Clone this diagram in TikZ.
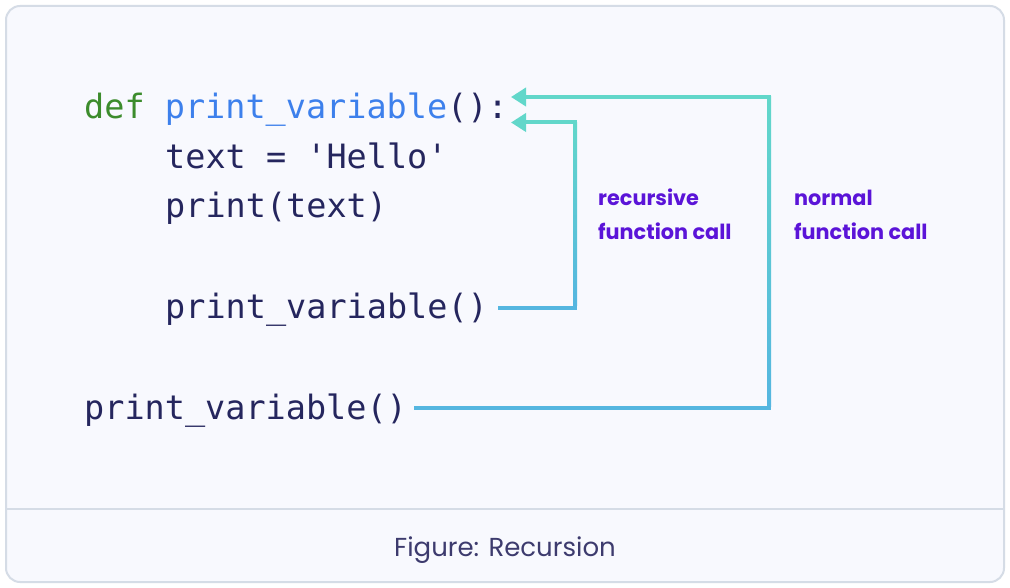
\documentclass[tikz,border=0pt]{standalone}
\usepackage{fontspec}
\setmonofont{DejaVu Sans Mono}
\newfontfamily\popfont{Poppins}
\usetikzlibrary{arrows.meta}
\definecolor{bgcol}{HTML}{F8F9FE}
\definecolor{bordercol}{HTML}{D5DCE6}
\definecolor{defgreen}{HTML}{3C8C2C}
\definecolor{fnblue}{HTML}{3D80EC}
\definecolor{codedark}{HTML}{25265E}
\definecolor{labpurple}{HTML}{5B14D8}
\definecolor{capcol}{HTML}{3D3B6E}
\definecolor{tealc}{HTML}{62D7CA}
\definecolor{bluec}{HTML}{55B6E0}
\tikzset{
  codeline/.style={anchor=base west, inner sep=0pt, text=codedark,
    font=\ttfamily\fontsize{33.5}{40}\selectfont},
  lab/.style={anchor=base west, inner sep=0pt, text=labpurple,
    font=\popfont\bfseries\fontsize{20.8}{24}\selectfont},
  conn/.style={line width=4pt, draw=tealc, -{Triangle[length=15pt,width=18pt]}},
}
\begin{document}
\begin{tikzpicture}[x=1pt,y=-1pt]
\useasboundingbox (0,0) rectangle (1010,588);
\fill[white] (0,0) rectangle (1010,588);
\draw[bordercol, line width=2pt, fill=bgcol, rounded corners=14pt] (6,6) rectangle (1004,582);
\draw[bordercol, line width=2pt] (6,509) -- (1004,509);

\node[codeline] (def) at (84,119) {{\color{defgreen}def} {\color{fnblue}print\_variable}():};
\node[codeline] (l2) at (165,169) {text = 'Hello'};
\node[codeline] (l3) at (165,218) {print(text)};
\node[codeline] (rcall) at (165,319) {print\_variable()};
\node[codeline] (ncall) at (84,419.5) {print\_variable()};

\coordinate (tN) at (511,97);
\coordinate (tR) at (511,122.5);
\coordinate (cN) at (769,408);
\coordinate (cR) at (575,307.7);

% normal call
\draw[conn] (ncall.east |- cN) ++(7,0) coordinate (sN) -- (cN) -- (cN |- tN) -- (tN);
\draw[line width=4pt, bluec] (sN) -- ([xshift=2pt]cN);
\shade[top color=tealc, bottom color=bluec] ([xshift=-2pt]cN |- tN) rectangle ([xshift=2pt,yshift=2pt]cN);
% recursive call
\draw[conn] (rcall.east |- cR) ++(10,0) coordinate (sR) -- (cR) -- (cR |- tR) -- (tR);
\draw[line width=4pt, bluec] (sR) -- ([xshift=2pt]cR);
\shade[top color=tealc, bottom color=bluec] ([xshift=-2pt]cR |- tR) rectangle ([xshift=2pt,yshift=2pt]cR);

\node[lab] (r1) at (598,206) {recursive};
\node[lab] (r2) at (598,240) {function call};
\node[lab] (n1) at (794,206) {normal};
\node[lab] (n2) at (794,240) {function call};

\node[anchor=base, inner sep=0pt, text=capcol, font=\popfont\fontsize{26}{30}\selectfont] (cap) at (505,556) {Figure: Recursion};
\end{tikzpicture}
\end{document}
